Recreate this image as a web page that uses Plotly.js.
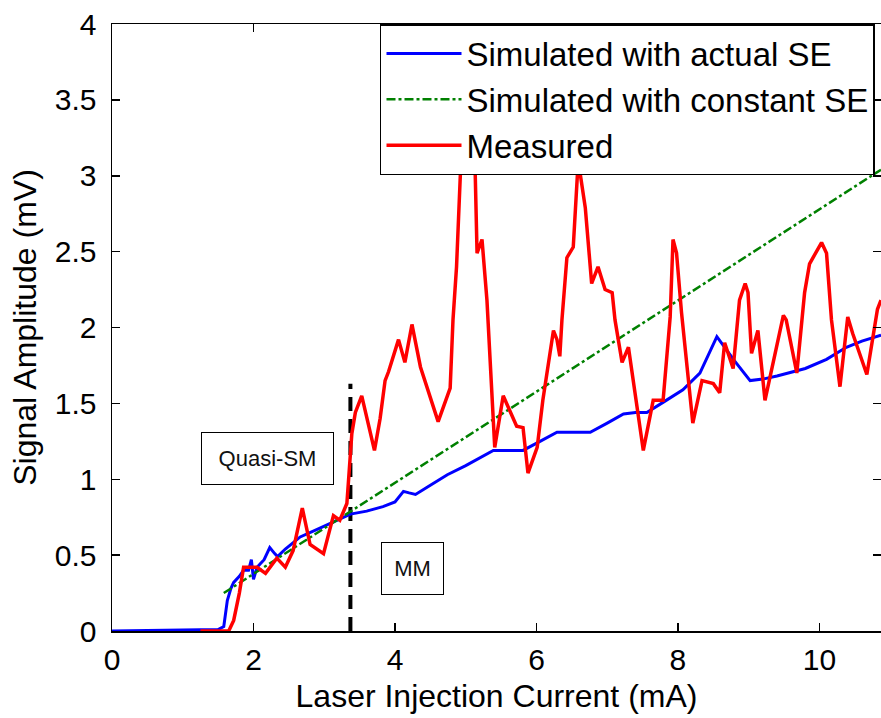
<!DOCTYPE html>
<html>
<head>
<meta charset="utf-8">
<script src="https://cdn.plot.ly/plotly-3.0.1.min.js"></script>
<style>html,body{margin:0;padding:0;background:#fff;}#chart{width:881px;height:718px;}</style>
</head>
<body>
<div id="chart"></div>
<script>
// ---- Data ----
const xTickVals = [0, 2, 4, 6, 8, 10];
const xTickText = ['0', '2', '4', '6', '8', '10'];
const yTickVals = [0, 0.5, 1, 1.5, 2, 2.5, 3, 3.5, 4];
const yTickText = ['0', '0.5', '1', '1.5', '2', '2.5', '3', '3.5', '4'];

const seriesNames = ['Simulated with actual SE', 'Simulated with constant SE', 'Measured'];

const actualX = [0, 0.7, 1.5, 1.58, 1.63, 1.68, 1.72, 1.8, 1.86, 1.93, 1.97, 2.0, 2.05, 2.15, 2.23, 2.3, 2.34, 2.45, 2.66, 2.9, 3.13, 3.37, 3.6, 3.83, 4.0, 4.12, 4.2, 4.29, 4.5, 4.74, 5.0, 5.2, 5.39, 5.6, 5.81, 6.05, 6.29, 6.5, 6.76, 7.0, 7.23, 7.4, 7.56, 7.8, 8.07, 8.31, 8.55, 8.8, 9.02, 9.2, 9.4, 9.8, 10.1, 10.38, 10.6, 10.87];
const actualY = [0, 0.005, 0.01, 0.03, 0.2, 0.28, 0.32, 0.36, 0.40, 0.40, 0.47, 0.34, 0.42, 0.47, 0.55, 0.51, 0.49, 0.54, 0.62, 0.67, 0.72, 0.77, 0.79, 0.82, 0.85, 0.92, 0.91, 0.90, 0.96, 1.03, 1.09, 1.14, 1.19, 1.19, 1.19, 1.25, 1.31, 1.31, 1.31, 1.37, 1.43, 1.44, 1.44, 1.51, 1.59, 1.70, 1.94, 1.78, 1.65, 1.66, 1.68, 1.73, 1.79, 1.87, 1.91, 1.95];

const constantX = [1.58, 10.87];
const constantY = [0.25, 3.04];

const measuredX = [1.25, 1.65, 1.72, 1.80, 1.86, 2.05, 2.17, 2.33, 2.45, 2.56, 2.69, 2.80, 2.99, 3.13, 3.22, 3.32, 3.34, 3.39, 3.44, 3.53, 3.71, 3.79, 3.86, 3.91, 4.05, 4.14, 4.24, 4.36, 4.61, 4.78, 4.82, 4.87, 4.95, 5.05, 5.12, 5.16, 5.23, 5.30, 5.41, 5.53, 5.72, 5.81, 5.88, 6.01, 6.09, 6.24, 6.29, 6.33, 6.36, 6.43, 6.52, 6.59, 6.69, 6.78, 6.87, 6.97, 7.07, 7.11, 7.21, 7.30, 7.51, 7.65, 7.79, 7.89, 7.93, 7.98, 8.05, 8.21, 8.34, 8.50, 8.59, 8.66, 8.78, 8.87, 8.95, 8.99, 9.04, 9.13, 9.23, 9.49, 9.53, 9.68, 9.79, 9.86, 10.03, 10.10, 10.17, 10.29, 10.40, 10.47, 10.67, 10.71, 10.82, 10.87];
const measuredY = [0, 0, 0.07, 0.25, 0.42, 0.42, 0.38, 0.48, 0.42, 0.53, 0.81, 0.57, 0.51, 0.76, 0.73, 0.84, 0.97, 1.30, 1.44, 1.55, 1.19, 1.40, 1.65, 1.71, 1.92, 1.77, 2.02, 1.74, 1.38, 1.60, 2.05, 2.40, 3.30, 3.15, 3.30, 2.49, 2.58, 2.18, 1.21, 1.55, 1.35, 1.34, 1.04, 1.21, 1.52, 1.98, 1.92, 1.81, 2.05, 2.46, 2.53, 3.10, 2.79, 2.29, 2.40, 2.25, 2.23, 2.05, 1.77, 1.87, 1.19, 1.52, 1.52, 2.07, 2.58, 2.49, 2.10, 1.37, 1.65, 1.63, 1.57, 1.90, 1.73, 2.18, 2.29, 2.23, 1.83, 1.98, 1.52, 2.08, 2.05, 1.70, 2.23, 2.42, 2.56, 2.49, 2.05, 1.61, 2.07, 1.96, 1.69, 1.81, 2.12, 2.18];

const boundaryX = [3.37, 3.37];
const boundaryY = [0, 1.63];

const regionLabels = ['Quasi-SM', 'MM'];

// ---- Chart ----
const FONT = 'Liberation Sans, Arial, Helvetica, sans-serif';

const traces = [
  {x: boundaryX, y: boundaryY, mode: 'lines', showlegend: false, hoverinfo: 'skip',
   line: {color: '#000000', width: 4, dash: '14px,8px'}},
  {x: actualX, y: actualY, mode: 'lines', name: seriesNames[0],
   line: {color: '#0000ff', width: 3}},
  {x: constantX, y: constantY, mode: 'lines', name: seriesNames[1],
   line: {color: '#008000', width: 2.5, dash: 'dashdot'}},
  {x: measuredX, y: measuredY, mode: 'lines', name: seriesNames[2],
   line: {color: '#ff0000', width: 3.5}}
];

const layout = {
  width: 881, height: 718,
  margin: {l: 112, r: 0, t: 24, b: 87},
  paper_bgcolor: '#ffffff', plot_bgcolor: '#ffffff',
  font: {family: FONT, color: '#000000', size: 30},
  showlegend: true,
  legend: {
    x: 0.3485, y: 1.0, xanchor: 'left', yanchor: 'top',
    bgcolor: '#ffffff', bordercolor: '#000000', borderwidth: 1.5,
    font: {family: FONT, size: 33, color: '#000000'},
    itemwidth: 75, traceorder: 'normal'
  },
  xaxis: {
    range: [0, 10.87], tickvals: xTickVals, ticktext: xTickText,
    ticks: 'inside', ticklen: 8, tickwidth: 1.5, tickcolor: '#000',
    showline: true, linecolor: '#000', linewidth: 1.5, mirror: 'ticks',
    showgrid: false, zeroline: false, ticklabelstandoff: 1,
    tickfont: {family: FONT, size: 30},
    title: {text: 'Laser Injection Current (mA)', font: {family: FONT, size: 32}, standoff: 10}
  },
  yaxis: {
    range: [0, 4], tickvals: yTickVals, ticktext: yTickText,
    ticks: 'inside', ticklen: 8, tickwidth: 1.5, tickcolor: '#000',
    showline: true, linecolor: '#000', linewidth: 1.5, mirror: 'ticks',
    showgrid: false, zeroline: false, ticklabelstandoff: 8,
    tickfont: {family: FONT, size: 30},
    title: {text: 'Signal Amplitude (mV)', font: {family: FONT, size: 32}, standoff: 8}
  },
  annotations: [
    {x: 2.20, y: 1.14, xref: 'x', yref: 'y', text: regionLabels[0], showarrow: false,
     font: {family: FONT, size: 22, color: '#111'}, bgcolor: '#ffffff',
     bordercolor: '#000', borderwidth: 1, borderpad: 2, width: 127, height: 47},
    {x: 4.245, y: 0.415, xref: 'x', yref: 'y', text: regionLabels[1], showarrow: false,
     font: {family: FONT, size: 22, color: '#111'}, bgcolor: '#ffffff',
     bordercolor: '#000', borderwidth: 1, borderpad: 2, width: 57, height: 47}
  ]
};

Plotly.newPlot('chart', traces, layout, {displayModeBar: false, staticPlot: true});
</script>
</body>
</html>
